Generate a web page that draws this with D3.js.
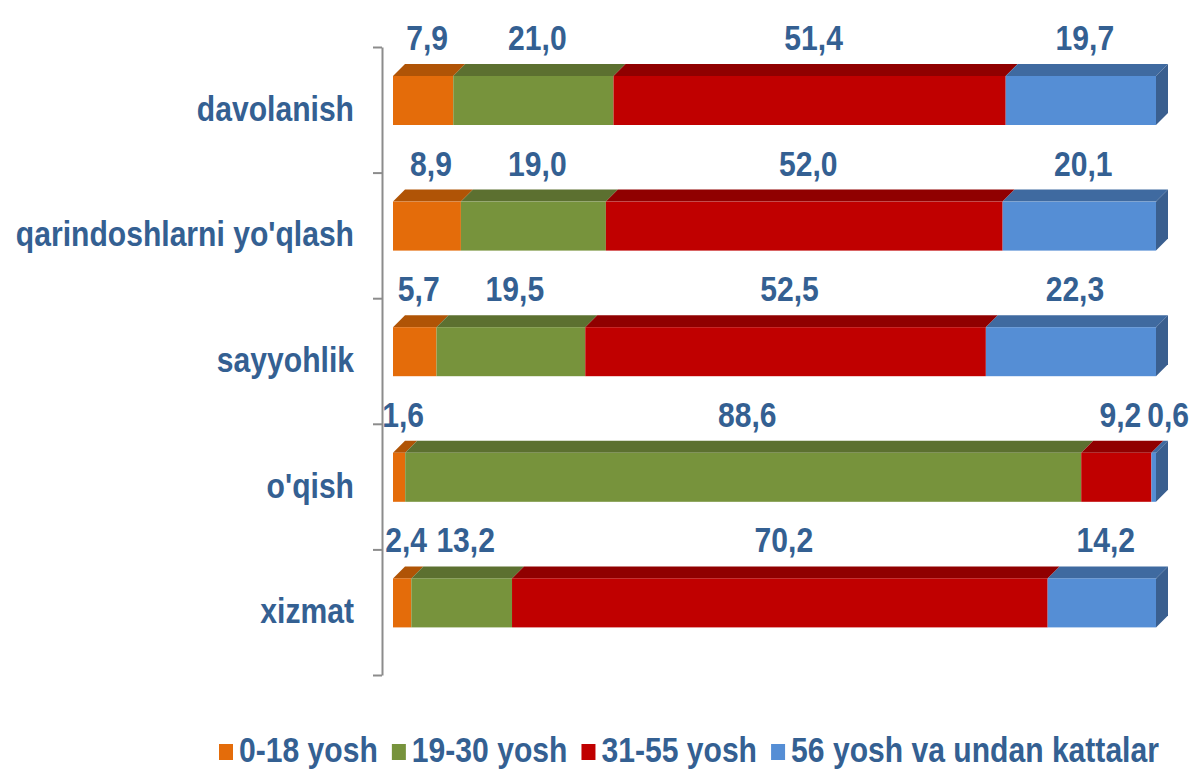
<!DOCTYPE html>
<html>
<head>
<meta charset="utf-8">
<script src="https://cdn.jsdelivr.net/npm/d3@7"></script>
<style>
  body { margin: 0; background: #fff; }
  text { font-family: "Liberation Sans", Arial, sans-serif; font-weight: bold; fill: #346092; }
</style>
</head>
<body>
<svg id="chart" width="1190" height="769"></svg>
<script>
var categories = ["davolanish", "qarindoshlarni yo'qlash", "sayyohlik", "o'qish", "xizmat"];
var seriesNames = ["0-18 yosh", "19-30 yosh", "31-55 yosh", "56 yosh va undan kattalar"];
var age0to18 = [7.9, 8.9, 5.7, 1.6, 2.4];
var age19to30 = [21.0, 19.0, 19.5, 88.6, 13.2];
var age31to55 = [51.4, 52.0, 52.5, 9.2, 70.2];
var age56plus = [19.7, 20.1, 22.3, 0.6, 14.2];

var colors = ['#e46c0a', '#77933c', '#c00000', '#558ed5'];
var topColors = ['#b05406', '#5c7030', '#900000', '#3f6aa0'];
var sideColor = '#3a5f8f';

var seriesValues = [age0to18, age19to30, age31to55, age56plus];
var rows = categories.map(function(c, i) {
  var r = { cat: c };
  seriesNames.forEach(function(s, j) { r[s] = seriesValues[j][i]; });
  return r;
});
var stacked = d3.stack().keys(seriesNames)(rows);

var svg = d3.select('#chart');
var sx = 0.86; // horizontal squeeze of the text
var dx = 12, dy = 12;
var barTop = 29, barH = 49;

var x = d3.scaleLinear().domain([0, 100]).range([393, 1156]);
var y = d3.scaleBand().domain(categories).range([47, 675]).paddingInner(0);

// axis with ticks on band edges
var edge = d3.scaleLinear().domain([0, categories.length]).range([47, 675]);
var axis = svg.append('g')
  .attr('transform', 'translate(382,0)')
  .call(d3.axisLeft(edge).ticks(categories.length).tickSize(9).tickSizeOuter(0).tickFormat(''));
axis.select('.domain').attr('stroke', '#8c8c8c').attr('stroke-width', 2);
axis.selectAll('.tick line').attr('stroke', '#8c8c8c').attr('stroke-width', 2);

var layers = svg.append('g').selectAll('g')
  .data(stacked)
  .join('g');

// top faces
layers.selectAll('path.top')
  .data(function(d, i) { return d.map(function(p, k) { return { p: p, i: i, k: k }; }); })
  .join('path')
  .attr('class', 'top')
  .attr('fill', function(d) { return topColors[d.i]; })
  .attr('d', function(d) {
    var t = y(categories[d.k]) + barTop;
    var x0 = x(d.p[0]), x1 = x(d.p[1]);
    return 'M' + x0 + ',' + t + 'L' + (x0 + dx) + ',' + (t - dy) + 'L' + (x1 + dx) + ',' + (t - dy) + 'L' + x1 + ',' + t + 'Z';
  });

// front faces
layers.selectAll('rect')
  .data(function(d, i) { return d.map(function(p, k) { return { p: p, i: i, k: k }; }); })
  .join('rect')
  .attr('x', function(d) { return x(d.p[0]); })
  .attr('y', function(d) { return y(categories[d.k]) + barTop; })
  .attr('width', function(d) { return x(d.p[1]) - x(d.p[0]); })
  .attr('height', barH)
  .attr('fill', function(d) { return colors[d.i]; });

// right side face
svg.append('g').selectAll('path')
  .data(categories)
  .join('path')
  .attr('fill', sideColor)
  .attr('d', function(c) {
    var t = y(c) + barTop, xr = x(100);
    return 'M' + xr + ',' + t + 'L' + (xr + dx) + ',' + (t - dy) + 'L' + (xr + dx) + ',' + (t - dy + barH) + 'L' + xr + ',' + (t + barH) + 'Z';
  });

// category labels
svg.append('g').selectAll('text')
  .data(categories)
  .join('text')
  .attr('transform', function(c) { return 'translate(354,' + (y(c) + y.bandwidth() / 2 + 11) + ') scale(' + sx + ',1)'; })
  .attr('text-anchor', 'end')
  .attr('font-size', 35)
  .text(function(c) { return c; });

// value labels, pushed right when they would overlap
var fmt = function(v) { return d3.format('.1f')(v).replace('.', ','); };
var labelG = svg.append('g');
categories.forEach(function(c, k) {
  var lastRight = -Infinity;
  stacked.forEach(function(s, i) {
    var p = s[k];
    var txt = fmt(p[1] - p[0]);
    var t = labelG.append('text')
      .attr('font-size', 35)
      .attr('text-anchor', 'middle')
      .text(txt);
    var w = t.node().getComputedTextLength() * sx;
    var cx = (x(p[0]) + x(p[1])) / 2 + 4;
    if (cx - w / 2 < lastRight + 6) cx = lastRight + 6 + w / 2;
    lastRight = cx + w / 2;
    t.attr('transform', 'translate(' + cx + ',' + (y(c) + barTop - 26) + ') scale(' + sx + ',1)');
  });
});

// legend
var legend = svg.append('g');
var lx = 219, ly = 762;
seriesNames.forEach(function(s, i) {
  legend.append('rect')
    .attr('x', lx).attr('y', ly - 18)
    .attr('width', 14).attr('height', 16)
    .attr('fill', colors[i]);
  var t = legend.append('text')
    .attr('font-size', 35)
    .text(s);
  var w = t.node().getComputedTextLength() * sx;
  t.attr('transform', 'translate(' + (lx + 20) + ',' + ly + ') scale(' + sx + ',1)');
  lx += 20 + w + 14;
});
</script>
</body>
</html>
